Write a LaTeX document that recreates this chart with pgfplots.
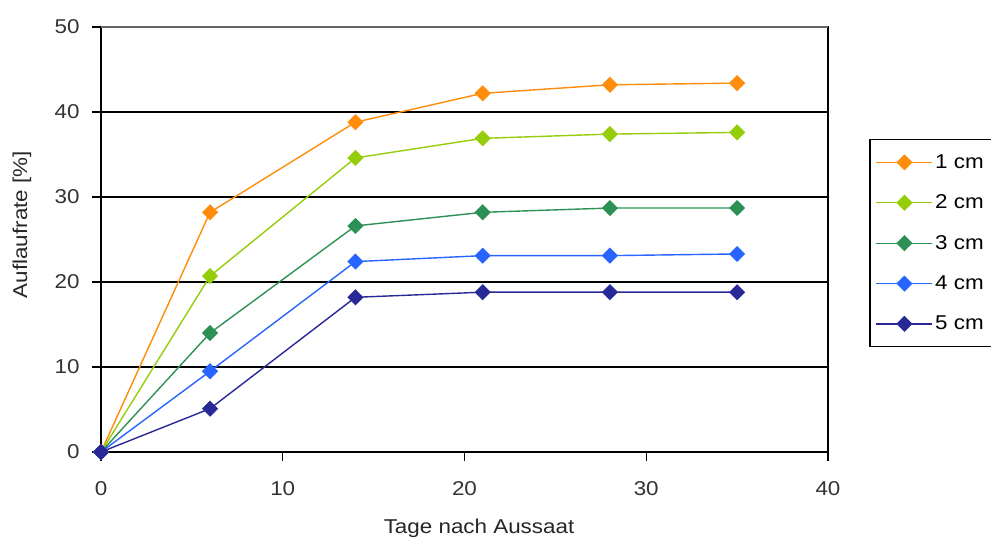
\documentclass[border=0pt]{standalone}
\usepackage{pgfplots}
\pgfplotsset{compat=1.18}
\usepackage{fontspec}
\setmainfont[FakeStretch=1.12]{Liberation Sans}
\definecolor{c1}{RGB}{255,140,10}
\definecolor{c2}{RGB}{150,205,10}
\definecolor{c3}{RGB}{45,145,85}
\definecolor{c4}{RGB}{40,100,255}
\definecolor{c5}{RGB}{40,40,150}
\pgfplotsset{dm/.style={color=#1, mark=square*, mark options={solid, fill=#1, rotate=45}}}
\begin{document}
\begin{tikzpicture}[x=1pt,y=1pt]
\useasboundingbox (-101pt,-94pt) rectangle (890pt,452pt);
\begin{axis}[
  at={(0pt,0pt)}, anchor=south west,
  scale only axis, width=727pt, height=425pt,
  xmin=0, xmax=40, ymin=0, ymax=50,
  xtick={0,10,...,40}, ytick={0,10,...,50},
  xtick pos=bottom, ytick pos=left,
  tick align=outside, major tick length=9pt,
  tick style={black, line width=1.2pt},
  axis line style={black, line width=1.5pt},
  ymajorgrids, grid style={black, line width=1.2pt},
  /pgf/number format/assume math mode=true,
  ticklabel style={font=\fontsize{20pt}{23pt}\selectfont, text=black!80},
  xticklabel style={yshift=-17pt},
  yticklabel style={xshift=-9pt},
  xlabel={Tage nach Aussaat}, ylabel={Auflaufrate [\%]},
  label style={font=\fontsize{20pt}{23pt}\selectfont, text=black!85},
  xlabel style={at={(axis description cs:0.52,0)}, anchor=center, yshift=-76pt},
  ylabel style={at={(axis description cs:0,0.535)}, anchor=center, yshift=79pt},
  legend style={at={(768pt,313pt)}, anchor=north west, draw=black, line width=1.5pt,
    font=\fontsize{20pt}{23pt}\selectfont, inner xsep=6pt, inner ysep=13pt,
    row sep=21pt, cells={anchor=west}},
  legend cell align=left,
  legend image code/.code={\draw[line width=1.4pt, mark repeat=2, mark phase=2] plot coordinates {(0pt,0pt)(28pt,0pt)(56pt,0pt)};},
  every axis plot/.append style={line width=1.4pt, mark size=5pt},
  clip=false,
]
\addplot[dm=c1] coordinates {(0,0)(6,28.2)(14,38.8)(21,42.2)(28,43.2)(35,43.4)};
\addlegendentry{1 cm}
\addplot[dm=c2] coordinates {(0,0)(6,20.7)(14,34.6)(21,36.9)(28,37.4)(35,37.6)};
\addlegendentry{2 cm}
\addplot[dm=c3] coordinates {(0,0)(6,14.0)(14,26.6)(21,28.2)(28,28.7)(35,28.7)};
\addlegendentry{3 cm}
\addplot[dm=c4] coordinates {(0,0)(6,9.5)(14,22.4)(21,23.1)(28,23.1)(35,23.3)};
\addlegendentry{4 cm}
\addplot[dm=c5] coordinates {(0,0)(6,5.1)(14,18.2)(21,18.8)(28,18.8)(35,18.8)};
\addlegendentry{5 cm}
\draw[black!60, line width=1.5pt] (rel axis cs:0,1) -- (rel axis cs:1,1);
\end{axis}
\end{tikzpicture}
\end{document}
